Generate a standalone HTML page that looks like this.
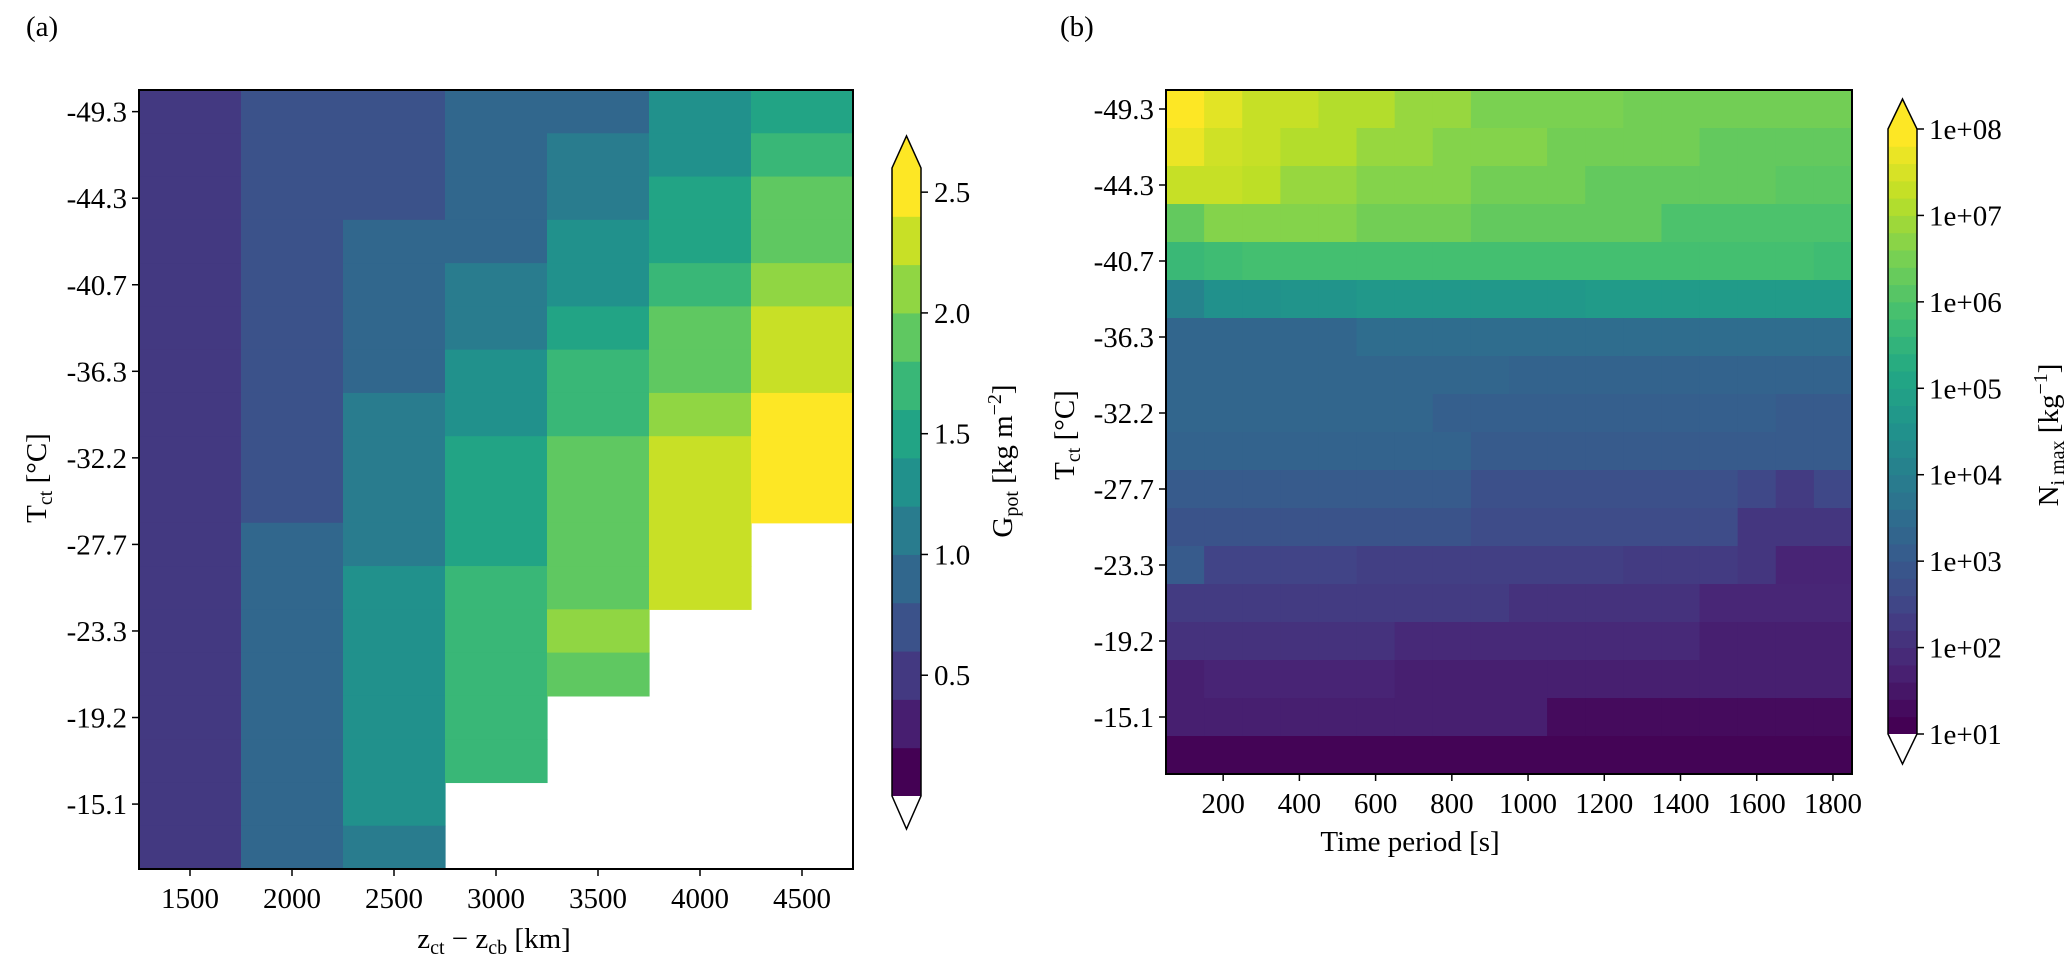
<!DOCTYPE html>
<html><head><meta charset="utf-8"><style>
html,body{margin:0;padding:0;background:#fff;}
svg{display:block;font-family:"Liberation Serif",serif;}
text{fill:#000;}
</style></head><body>
<svg id="fig" width="2067" height="969" viewBox="0 0 2067 969" xmlns="http://www.w3.org/2000/svg">
<g id="ga"></g>
<g id="gb"></g>
</svg>
<script>
// ---------- data ----------
const aCategoriesX = [1500, 2000, 2500, 3000, 3500, 4000, 4500];
const yTickLabels = ["-49.3","-44.3","-40.7","-36.3","-32.2","-27.7","-23.3","-19.2","-15.1"];
// Panel (a) G_pot values, columns (x categories), rows top->bottom; null = no data
const aCol1500 = [0.5,0.5,0.5,0.5,0.5,0.5,0.5,0.5,0.5,0.5,0.5,0.5,0.5,0.5,0.5,0.5,0.5,0.5];
const aCol2000 = [0.7,0.7,0.7,0.7,0.7,0.7,0.7,0.7,0.7,0.7,0.9,0.9,0.9,0.9,0.9,0.9,0.9,0.9];
const aCol2500 = [0.7,0.7,0.7,0.9,0.9,0.9,0.9,1.1,1.1,1.1,1.1,1.3,1.3,1.3,1.3,1.3,1.3,1.1];
const aCol3000 = [0.9,0.9,0.9,0.9,1.1,1.1,1.3,1.3,1.5,1.5,1.5,1.7,1.7,1.7,1.7,1.7,null,null];
const aCol3500 = [0.9,1.1,1.1,1.3,1.3,1.5,1.7,1.7,1.9,1.9,1.9,1.9,2.1,1.9,null,null,null,null];
const aCol4000 = [1.3,1.3,1.5,1.5,1.7,1.9,1.9,2.1,2.3,2.3,2.3,2.3,null,null,null,null,null,null];
const aCol4500 = [1.5,1.7,1.9,1.9,2.1,2.3,2.3,2.7,2.7,2.7,null,null,null,null,null,null,null,null];
const aLevels = [0,0.2,0.4,0.6,0.8,1.0,1.2,1.4,1.6,1.8,2.0,2.2,2.4,2.6];
const aCbTicks = [0.5,1.0,1.5,2.0,2.5];

const bTimes = [100,200,300,400,500,600,700,800,900,1000,1100,1200,1300,1400,1500,1600,1700,1800];
const bXTicks = [200,400,600,800,1000,1200,1400,1600,1800];
// Panel (b) log10(N_i max) per row (top->bottom), per time column
const bRow0  = [8.0,7.7,7.4,7.4,7.2,7.2,6.9,6.9,6.6,6.6,6.6,6.6,6.5,6.5,6.5,6.5,6.5,6.5];
const bRow1  = [7.8,7.5,7.4,7.2,7.2,6.9,6.9,6.7,6.7,6.7,6.5,6.5,6.5,6.5,6.3,6.3,6.3,6.3];
const bRow2  = [7.4,7.4,7.3,6.9,6.9,6.7,6.7,6.7,6.5,6.5,6.5,6.3,6.3,6.3,6.3,6.3,6.2,6.2];
const bRow3  = [6.3,6.7,6.7,6.7,6.7,6.5,6.5,6.5,6.3,6.3,6.3,6.3,6.3,6.0,6.0,6.0,6.0,6.0];
const bRow4  = [5.7,5.8,5.9,5.9,5.9,5.9,5.9,5.9,5.9,5.9,5.9,5.9,5.9,5.9,5.9,5.9,5.9,5.8];
const bRow5  = [4.1,4.5,4.5,4.6,4.6,4.7,4.7,4.7,4.7,4.7,4.7,4.8,4.8,4.8,4.8,4.8,4.8,4.8];
const bRow6  = [3.3,3.3,3.3,3.3,3.3,3.5,3.5,3.5,3.5,3.5,3.5,3.5,3.5,3.5,3.5,3.5,3.5,3.5];
const bRow7  = [3.3,3.3,3.3,3.3,3.3,3.3,3.3,3.3,3.3,3.2,3.2,3.2,3.2,3.2,3.2,3.2,3.2,3.2];
const bRow8  = [3.3,3.3,3.3,3.3,3.3,3.3,3.3,3.1,3.1,3.1,3.1,3.1,3.1,3.1,3.1,3.1,3.0,3.0];
const bRow9  = [3.2,3.2,3.2,3.2,3.2,3.2,3.2,3.2,3.0,3.0,3.0,3.0,3.0,3.0,3.0,3.0,3.0,3.0];
const bRow10 = [3.0,3.0,3.0,3.0,3.0,3.0,3.0,3.0,2.7,2.7,2.7,2.7,2.7,2.7,2.7,2.5,2.2,2.5];
const bRow11 = [2.8,2.8,2.8,2.8,2.8,2.8,2.8,2.8,2.6,2.6,2.6,2.6,2.6,2.6,2.6,2.1,2.1,2.1];
const bRow12 = [3.0,2.4,2.4,2.4,2.4,2.3,2.3,2.3,2.3,2.3,2.3,2.3,2.2,2.2,2.2,2.1,1.7,1.7];
const bRow13 = [2.2,2.2,2.2,2.2,2.2,2.2,2.2,2.2,2.2,2.0,2.0,2.0,2.0,2.0,1.75,1.75,1.75,1.75];
const bRow14 = [2.0,2.0,2.0,2.0,2.0,2.0,1.8,1.8,1.8,1.8,1.8,1.8,1.8,1.8,1.6,1.6,1.6,1.6];
const bRow15 = [1.6,1.7,1.7,1.7,1.7,1.7,1.6,1.6,1.6,1.6,1.6,1.6,1.6,1.6,1.6,1.6,1.6,1.6];
const bRow16 = [1.6,1.6,1.6,1.6,1.6,1.6,1.6,1.6,1.6,1.6,1.2,1.2,1.2,1.2,1.2,1.2,1.2,1.2];
const bRow17 = [1.05,1.05,1.05,1.05,1.05,1.05,1.05,1.05,1.05,1.05,1.05,1.05,1.05,1.05,1.05,1.05,1.05,1.05];
const bCbTicks = [1,2,3,4,5,6,7,8];
const bCbLabels = ["1e+01","1e+02","1e+03","1e+04","1e+05","1e+06","1e+07","1e+08"];

// ---------- helpers ----------
const NS = "http://www.w3.org/2000/svg";
const VIR = ["#440154","#482475","#414487","#355f8d","#2a788e","#21918c","#22a884","#44bf70","#7ad151","#bddf26","#fde725"];
function hex(c){return [parseInt(c.slice(1,3),16),parseInt(c.slice(3,5),16),parseInt(c.slice(5,7),16)];}
function viridis(f){
  f=Math.max(0,Math.min(1,f));
  const p=f*10, i=Math.min(9,Math.floor(p)), t=p-i;
  const a=hex(VIR[i]), b=hex(VIR[i+1]);
  return "rgb("+a.map((v,k)=>Math.round(v+(b[k]-v)*t)).join(",")+")";
}
function mk(tag, attrs, parent){
  const e=document.createElementNS(NS,tag);
  for(const k in attrs) e.setAttribute(k, attrs[k]);
  parent.appendChild(e);
  return e;
}
function txt(parent, s, x, y, size, anchor){
  const t=mk("text",{x:x,y:y,"font-size":size,"text-anchor":anchor||"middle"},parent);
  t.textContent=s; return t;
}

// ---------- panel (a) ----------
const ga=document.getElementById("ga");
const A={x0:139, x1:853, y0:90, y1:869};
const aCols=[aCol1500,aCol2000,aCol2500,aCol3000,aCol3500,aCol4000,aCol4500];
const nRows=18;
const aColW=(A.x1-A.x0)/aCategoriesX.length, aRowH=(A.y1-A.y0)/nRows;
function axA(i){return A.x0+i*aColW;}
function ayA(r){return A.y0+r*aRowH;}
const aNb=aLevels.length-1;
function aColor(v){
  let b=Math.floor(v/0.2+1e-9);
  if(b>aNb-1) b=aNb-1;
  if(b<0) return "#ffffff";
  return viridis(b/(aNb-1));
}
aCols.forEach((col,ci)=>{
  col.forEach((v,ri)=>{
    if(v===null) return;
    const r=mk("rect",{x:axA(ci),y:ayA(ri),width:aColW+0.6,height:aRowH+0.6,fill:aColor(v)},ga);
    
    
  });
});
const fa=mk("rect",{x:A.x0,y:A.y0,width:A.x1-A.x0,height:A.y1-A.y0,fill:"none",stroke:"#000","stroke-width":2},ga);


aCategoriesX.forEach((c,i)=>{
  const x=axA(i)+aColW/2;
  mk("line",{x1:x,x2:x,y1:A.y1,y2:A.y1+7,stroke:"#000","stroke-width":1.5},ga);
  const t=txt(ga,String(c),x,908,29);
  
  
});
yTickLabels.forEach((s,i)=>{
  const y=ayA(i*2)+aRowH/2;
  mk("line",{x1:A.x0-7,x2:A.x0,y1:y,y2:y,stroke:"#000","stroke-width":1.5},ga);
  const t=txt(ga,s,A.x0-12,y+10,29,"end");
  
  
});
// colorbar (a)
const CA={x0:892,x1:921,top:168,bot:796,tipT:136,tipB:829};
const aCbH=(CA.bot-CA.top)/aNb;
for(let i=0;i<aNb;i++){
  const r=mk("rect",{x:CA.x0,y:CA.bot-(i+1)*aCbH,width:CA.x1-CA.x0,height:aCbH+0.5,fill:viridis(i/(aNb-1))},ga);
  
  
}
mk("polygon",{points:`${CA.x0},${CA.top} ${(CA.x0+CA.x1)/2},${CA.tipT} ${CA.x1},${CA.top}`,fill:viridis(1)},ga);
mk("polygon",{points:`${CA.x0},${CA.bot} ${(CA.x0+CA.x1)/2},${CA.tipB} ${CA.x1},${CA.bot}`,fill:"#fff"},ga);
const oa=mk("polygon",{points:`${CA.x0},${CA.top} ${(CA.x0+CA.x1)/2},${CA.tipT} ${CA.x1},${CA.top} ${CA.x1},${CA.bot} ${(CA.x0+CA.x1)/2},${CA.tipB} ${CA.x0},${CA.bot}`,fill:"none",stroke:"#000","stroke-width":1.5},ga);


aCbTicks.forEach(v=>{
  const y=CA.bot-(v-aLevels[0])/(aLevels[aNb]-aLevels[0])*(CA.bot-CA.top);
  mk("line",{x1:CA.x1,x2:CA.x1+7,y1:y,y2:y,stroke:"#000","stroke-width":1.5},ga);
  const t=txt(ga,v.toFixed(1),CA.x1+13,y+10,29,"start");
  
  
});

// ---------- panel (b) ----------
const gb=document.getElementById("gb");
const B={x0:1166, x1:1852, y0:90, y1:774};
const bRows=[bRow0,bRow1,bRow2,bRow3,bRow4,bRow5,bRow6,bRow7,bRow8,bRow9,bRow10,bRow11,bRow12,bRow13,bRow14,bRow15,bRow16,bRow17];
const bXmin=bTimes[0]-50, bXmax=bTimes[bTimes.length-1]+50;
function bx(t){return B.x0+(t-bXmin)/(bXmax-bXmin)*(B.x1-B.x0);}
const bRowH=(B.y1-B.y0)/bRows.length;
function by(r){return B.y0+r*bRowH;}
const bColW=bx(bTimes[1])-bx(bTimes[0]);
function bColor(v){return viridis((v-1)/7);}
bRows.forEach((row,ri)=>{
  row.forEach((v,ci)=>{
    const r=mk("rect",{x:bx(bTimes[ci])-bColW/2,y:by(ri),width:bColW+0.6,height:bRowH+0.6,fill:bColor(v)},gb);
    
    
  });
});
const fb=mk("rect",{x:B.x0,y:B.y0,width:B.x1-B.x0,height:B.y1-B.y0,fill:"none",stroke:"#000","stroke-width":2},gb);


bXTicks.forEach(t=>{
  const x=bx(t);
  mk("line",{x1:x,x2:x,y1:B.y1,y2:B.y1+7,stroke:"#000","stroke-width":1.5},gb);
  const e=txt(gb,String(t),x,813,29);
  
  
});
yTickLabels.forEach((s,i)=>{
  const y=by(i*2)+bRowH/2;
  mk("line",{x1:B.x0-7,x2:B.x0,y1:y,y2:y,stroke:"#000","stroke-width":1.5},gb);
  const e=txt(gb,s,B.x0-12,y+10,29,"end");
  
  
});
// colorbar (b)
const CB={x0:1888,x1:1917,top:129,bot:734,tipT:99,tipB:764};
const bNb=35;
const bCbH=(CB.bot-CB.top)/bNb;
for(let i=0;i<bNb;i++){
  const r=mk("rect",{x:CB.x0,y:CB.bot-(i+1)*bCbH,width:CB.x1-CB.x0,height:bCbH+0.5,fill:viridis(i/(bNb-1))},gb);
  
  
}
mk("polygon",{points:`${CB.x0},${CB.top} ${(CB.x0+CB.x1)/2},${CB.tipT} ${CB.x1},${CB.top}`,fill:viridis(1)},gb);
mk("polygon",{points:`${CB.x0},${CB.bot} ${(CB.x0+CB.x1)/2},${CB.tipB} ${CB.x1},${CB.bot}`,fill:"#fff"},gb);
const ob=mk("polygon",{points:`${CB.x0},${CB.top} ${(CB.x0+CB.x1)/2},${CB.tipT} ${CB.x1},${CB.top} ${CB.x1},${CB.bot} ${(CB.x0+CB.x1)/2},${CB.tipB} ${CB.x0},${CB.bot}`,fill:"none",stroke:"#000","stroke-width":1.5},gb);


bCbTicks.forEach((v,i)=>{
  const y=CB.bot-(v-1)/7*(CB.bot-CB.top);
  mk("line",{x1:CB.x1,x2:CB.x1+7,y1:y,y2:y,stroke:"#000","stroke-width":1.5},gb);
  const e=txt(gb,bCbLabels[i],CB.x1+12,y+10,29,"start");
  
  
});
</script>
<svg width="2067" height="969" style="position:absolute;left:0;top:0;pointer-events:none" xmlns="http://www.w3.org/2000/svg" font-family="Liberation Serif, serif">
  <text x="26" y="36" font-size="29">(a)</text>
  <text x="1060" y="36" font-size="29">(b)</text>
  <text x="494" y="948" font-size="29" text-anchor="middle">z<tspan font-size="20" dy="6">ct</tspan><tspan dy="-6"> − z</tspan><tspan font-size="20" dy="6">cb</tspan><tspan dy="-6"> [km]</tspan></text>
  <text transform="translate(46,478) rotate(-90)" font-size="29" text-anchor="middle">T<tspan font-size="20" dy="6">ct</tspan><tspan dy="-6"> [°C]</tspan></text>
  <text transform="translate(1012,461) rotate(-90)" font-size="29" text-anchor="middle">G<tspan font-size="20" dy="6">pot</tspan><tspan dy="-6"> [kg m</tspan><tspan font-size="20" dy="-11">−2</tspan><tspan dy="11">]</tspan></text>
  <text x="1410" y="851" font-size="29" text-anchor="middle">Time period [s]</text>
  <text transform="translate(1074,435) rotate(-90)" font-size="29" text-anchor="middle">T<tspan font-size="20" dy="6">ct</tspan><tspan dy="-6"> [°C]</tspan></text>
  <text transform="translate(2058,435) rotate(-90)" font-size="29" text-anchor="middle">N<tspan font-size="20" dy="6">i max</tspan><tspan dy="-6"> [kg</tspan><tspan font-size="20" dy="-11">−1</tspan><tspan dy="11">]</tspan></text>
</svg>
<style>body{position:relative;width:2067px;height:969px;overflow:hidden;}</style>
</body></html>
